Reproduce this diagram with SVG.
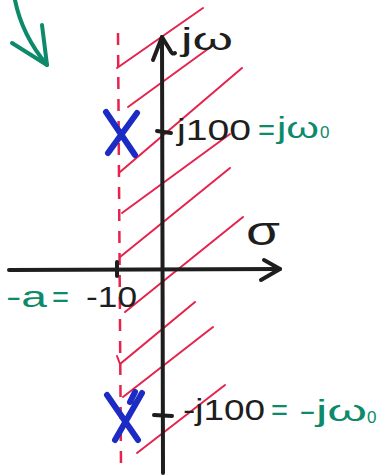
<svg xmlns="http://www.w3.org/2000/svg" width="379" height="475" viewBox="0 0 379 475">
<style>
.hatch{stroke:#e5234d;stroke-width:2;fill:none;stroke-linecap:round}
.axis{stroke:#1e1e1e;stroke-width:4;fill:none;stroke-linecap:round;stroke-linejoin:round}
.pole{stroke:#1b2bc4;stroke-width:6;fill:none;stroke-linecap:round}
.ink{font-family:"Liberation Sans","DejaVu Sans",sans-serif;fill:#1e1e1e}
.grn{font-family:"Liberation Sans","DejaVu Sans",sans-serif;fill:#0c8a6a}
</style>
<rect width="379" height="475" fill="#ffffff"/>
<g id="boundary">
<line x1="118" y1="33" x2="121" y2="468" stroke="#e5234d" stroke-width="2.5" stroke-dasharray="12 10"/>
</g>
<g id="hatching">
<path class="hatch" d="M117,68 L203,8"/>
<path class="hatch" d="M128,107 L212,46"/>
<path class="hatch" d="M120,172 L242,68"/>
<path class="hatch" d="M122,213 L230,134"/>
<path class="hatch" d="M120,257 L230,168"/>
<path class="hatch" d="M125,312 L243,217"/>
<path class="hatch" d="M117,356 L120,364 L195,302"/>
<path class="hatch" d="M123,397 L213,327"/>
<path class="hatch" d="M137,453 L225,385"/>
</g>
<g id="axes">
<path class="axis" d="M163,473 L162,37"/>
<path class="axis" d="M153,60 L162,37 L170,50 Q172,55 175,53"/>
<path class="axis" d="M9,270 L280,269"/>
<path class="axis" d="M264,260 L280,269 L261,280"/>
<path class="axis" d="M117,262 L117,276"/>
<path class="axis" d="M157,131 L171,133"/>
<path class="axis" d="M154,415 L172,416"/>
</g>
<g id="poles">
<path class="pole" d="M106,112 L135,155 M137,113 L108,153"/>
<path class="pole" d="M107,395 L138,440 M142,393 L115,440 M135,392 L130,402"/>
</g>
<g id="arrow-note">
<path d="M15,0 Q22,35 47,65" stroke="#0c8a6a" stroke-width="4" fill="none" stroke-linecap="round"/>
<path d="M12,43 L47,65 L42,25" stroke="#0c8a6a" stroke-width="4" fill="none" stroke-linecap="round" stroke-linejoin="round"/>
</g>
<g id="labels">
<text class="ink" x="181" y="50" font-size="32" textLength="52" lengthAdjust="spacingAndGlyphs">jω</text>
<text class="ink" x="177" y="140" font-size="30" textLength="74" lengthAdjust="spacingAndGlyphs">j100</text>
<text class="grn" x="258" y="140" font-size="30" textLength="17" lengthAdjust="spacingAndGlyphs">=</text>
<text class="grn" x="277" y="138" font-size="30" textLength="42" lengthAdjust="spacingAndGlyphs">jω</text>
<text class="grn" x="320" y="138" font-size="17">0</text>
<text class="ink" x="246" y="245" font-size="40" textLength="34" lengthAdjust="spacingAndGlyphs">σ</text>
<text class="grn" x="6" y="307" font-size="30" textLength="41" lengthAdjust="spacingAndGlyphs">-a</text>
<text class="grn" x="52" y="307" font-size="30" textLength="17" lengthAdjust="spacingAndGlyphs">=</text>
<text class="ink" x="86" y="307" font-size="30" textLength="51" lengthAdjust="spacingAndGlyphs">-10</text>
<text class="ink" x="183" y="420" font-size="30" textLength="82" lengthAdjust="spacingAndGlyphs">-j100</text>
<text class="grn" x="271" y="420" font-size="30" textLength="17" lengthAdjust="spacingAndGlyphs">=</text>
<text class="grn" x="299" y="421" font-size="30" textLength="68" lengthAdjust="spacingAndGlyphs">-jω</text>
<text class="grn" x="367" y="423" font-size="17">0</text>
</g>
</svg>
